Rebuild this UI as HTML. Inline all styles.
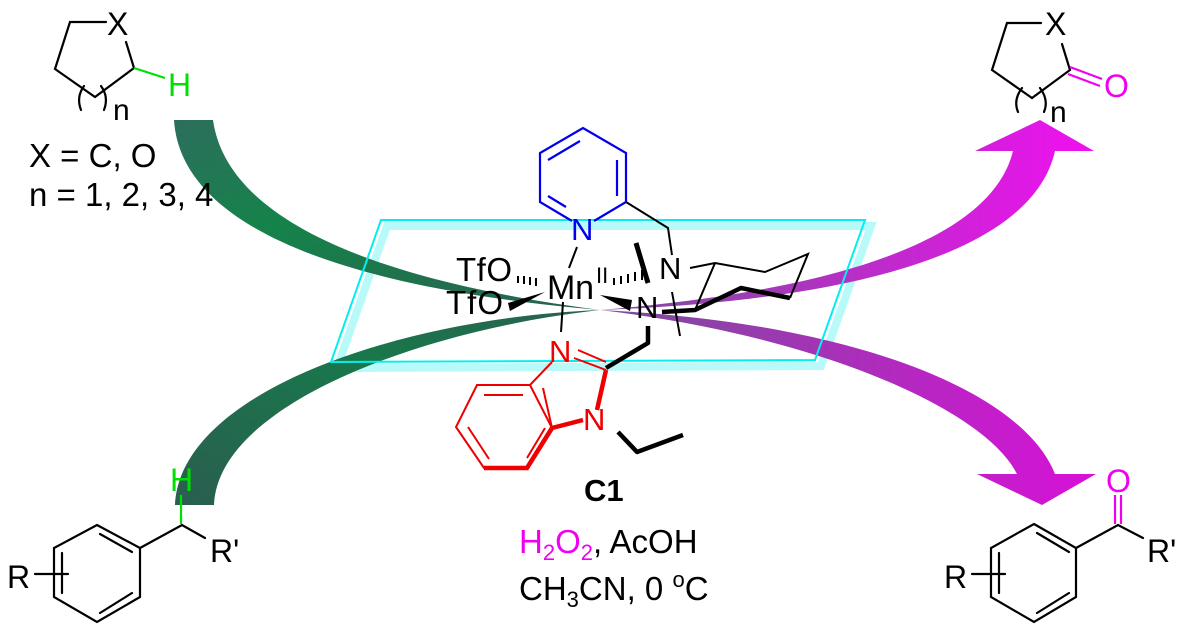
<!DOCTYPE html>
<html><head><meta charset="utf-8"><style>
html,body{margin:0;padding:0;background:#fff;}
svg{display:block;}
text{font-family:"Liberation Sans",sans-serif;}
</style></head><body>
<svg width="1186" height="633" viewBox="0 0 1186 633" xmlns="http://www.w3.org/2000/svg">
<defs>
<linearGradient id="g1" x1="0" y1="0" x2="1" y2="1"><stop offset="0" stop-color="#2c6e5c"/><stop offset="0.4" stop-color="#15834a"/><stop offset="1" stop-color="#2a6050"/></linearGradient>
<linearGradient id="g2" x1="0" y1="1" x2="1" y2="0"><stop offset="0" stop-color="#2a5e50"/><stop offset="0.6" stop-color="#18784a"/><stop offset="1" stop-color="#2a6050"/></linearGradient>
<linearGradient id="p1" x1="0" y1="0" x2="1" y2="0"><stop offset="0" stop-color="#7a4f9a"/><stop offset="1" stop-color="#f010f0"/></linearGradient>
<linearGradient id="p2" x1="0" y1="0" x2="1" y2="0"><stop offset="0" stop-color="#7a4f9a"/><stop offset="1" stop-color="#d810d8"/></linearGradient>
</defs>
<polygon points="387,226 871,226 821,366 337,368" fill="none" stroke="#b8fafa" stroke-width="8"/>
<path d="M174,120 C180,215 310,285 600,310 C335,275 225,205 213,120 Z" fill="url(#g1)"/>
<path d="M600,310 C400,318 180,392 175,505 L214,505 C218,405 420,330 600,310 Z" fill="url(#g2)"/>
<path d="M600,310 C820,292 990,245 1013,151 L975,151 L1040,120 L1094,151 L1055,151 C1030,262 820,302 600,310 Z" fill="url(#p1)"/>
<path d="M600,310 C850,322 1022,390 1055,474 L1096,474 L1042,505 L977,474 L1017,474 C985,410 820,336 600,310 Z" fill="url(#p2)"/>
<polygon points="381,220 865,220 815,360 331,362" fill="none" stroke="#00f0f0" stroke-width="2"/>

<g stroke="#000" stroke-width="2.2" fill="none" stroke-linecap="round">
<polyline points="106,22 70,22 55,69 95,97 134,68 126,42"/>
<path d="M84,86 Q76,97 81,110 M101,86 Q109,97 104,110"/>
<polyline points="1041,23 1007,23 992,70 1032,98 1070,70 1062,44"/>
<path d="M1022,88 Q1013,100 1018,112 M1040,88 Q1049,100 1044,112"/>
<polygon points="97,525 140,548 140,597 97,622 54,597 54,548"/>
<path d="M62,553 L62,593 M100,534 L132,552 M100,613 L132,593 M35,574 L68,574 M140,548 L182,525 L205,538"/>
<polygon points="1034,524 1076,548 1076,597 1034,622 991,597 991,548"/>
<path d="M999,553 L999,593 M1037,533 L1069,552 M1037,613 L1069,593 M972,574 L1005,574 M1076,548 L1118,525 L1143,538"/>
</g>
<g stroke="#00e000" stroke-width="2.2"><path d="M134,68 L165,78 M181,495 L181,524"/></g>
<g stroke="#f000f0" stroke-width="2.2"><path d="M1070,67 L1102,79 M1068,74 L1100,86 M1115,495 L1115,524 M1121,495 L1121,524"/></g>
<text x="107" y="35" font-size="32">X</text>
<text x="168" y="96" font-size="32" fill="#00e000">H</text>
<text x="113" y="120" font-size="30">n</text>
<text x="29" y="167" font-size="33">X = C, O</text>
<text x="29" y="206" font-size="33">n = 1, 2, 3, 4</text>
<text x="1045" y="35" font-size="32">X</text>
<text x="1104" y="97" font-size="32" fill="#f000f0">O</text>
<text x="1050" y="122" font-size="30">n</text>
<text x="170" y="491" font-size="32" fill="#00e000">H</text>
<text x="210" y="562" font-size="32">R'</text>
<text x="7" y="588" font-size="32">R</text>
<text x="1106" y="492" font-size="32" fill="#f000f0">O</text>
<text x="1147" y="562" font-size="32">R'</text>
<text x="944" y="588" font-size="32">R</text>

<g stroke="#0000ee" stroke-width="2.2" fill="none">
<polyline points="572,221 540,202 540,153 583,128 626,153 626,202 594,221"/>
<path d="M548,160 L580,141 M617,160 L617,196 M548,196 L566,207"/>
</g>
<text x="571" y="240" font-size="31" fill="#0000ee">N</text>
<g stroke="#000" stroke-width="2" fill="none">
<path d="M626,202 L668,228 L672,255 M577,247 L569,268 M563,302 L561,332 M690,268 L715,263 L765,272 L808,254 L790,298 M715,263 L695,310 M672,292 L680,336"/>
</g>
<g stroke="#000" stroke-width="4.5" fill="none" stroke-linejoin="round">
<path d="M662,312 L695,310 L741,288 L790,298 M648,326 L648,343 L606,368 M618,432 L637,452 L683,435"/>
<path d="M636,243 L648,283" stroke-width="5"/>
</g>
<g stroke="#000" stroke-width="2"><path d="M518,276 L518,283 M524,276 L524,284 M530,277 L530,285 M536,278 L536,286 M614,278 L614,285 M621,276 L621,284 M628,274 L628,283 M635,272 L635,281 M642,270 L642,280"/></g>
<polygon points="545,292 508,303 510,311" fill="#000"/>
<polygon points="600,295 632,300 630,311" fill="#000"/>
<text x="456" y="281" font-size="33" textLength="56">TfO</text>
<text x="446" y="314" font-size="33" textLength="57">TfO</text>
<text x="547" y="299" font-size="34" textLength="47">Mn</text>
<text x="596" y="283" font-size="22">II</text>
<text x="659" y="279" font-size="31">N</text>
<text x="636" y="318" font-size="31">N</text>
<g stroke="#ee0000" stroke-width="2" fill="none">
<polygon points="530,385 477,385 456,427 484,468 527,468 552,428"/>
<path d="M484,395 L523,395 M468,427 L489,459 M527,458 L545,428 M530,385 L552,362 M543,388 L552,428 M574,358 L606,370 M578,350 L606,362"/>
</g>
<g stroke="#ee0000" stroke-width="4.5" fill="none"><path d="M552,428 L583,420 M597,410 L606,370 M484,468 L527,468 L552,428"/></g>
<text x="549" y="362" font-size="31" fill="#ee0000">N</text>
<text x="583" y="430" font-size="31" fill="#ee0000">N</text>
<text x="584" y="501" font-size="31" font-weight="bold">C1</text>
<text x="519" y="553" font-size="33"><tspan fill="#f000f0">H<tspan font-size="22" dy="7">2</tspan><tspan dy="-7">O</tspan><tspan font-size="22" dy="7">2</tspan></tspan><tspan dy="-7">, AcOH</tspan></text>
<text x="519" y="600" font-size="33">CH<tspan font-size="22" dy="7">3</tspan><tspan dy="-7">CN, 0 </tspan><tspan font-size="22" dy="-13">o</tspan><tspan dy="13">C</tspan></text>
</svg>
</body></html>
